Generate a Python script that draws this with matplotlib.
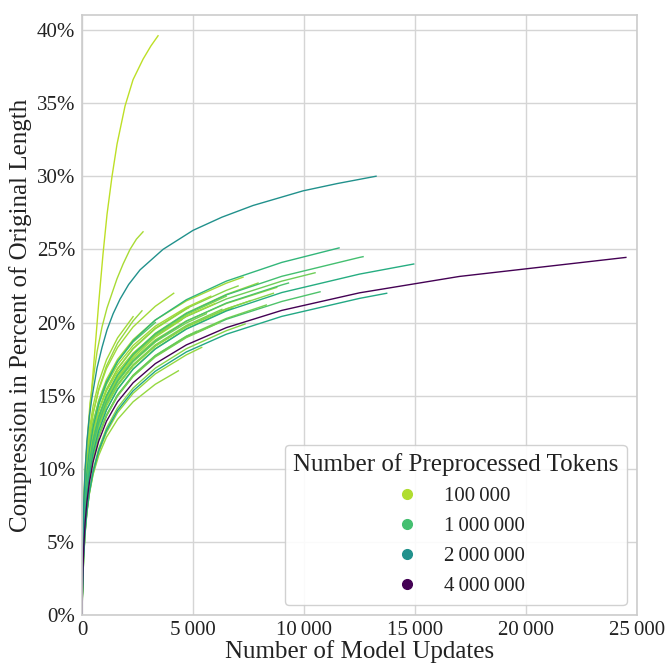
import matplotlib
matplotlib.use("Agg")
import matplotlib.pyplot as plt
from matplotlib.lines import Line2D
from matplotlib.ticker import FuncFormatter

plt.rcParams['font.family'] = ['Liberation Serif', 'DejaVu Serif']

# ---------------- data ----------------
update_grid = [0, 15, 40, 80, 140, 220, 330, 500, 750, 1100, 1600, 2300,
               3300, 4700, 6500, 9000, 12500, 17000]

# runs read on the grid: colour value on viridis, last update, compression (%)
# (compression values are at the grid points below the last update, then at the last update)
grid_run_color = [0.86, 0.84, 0.86, 0.84, 0.76, 0.84, 0.82, 0.86, 0.82, 0.84, 0.80,
                  0.82, 0.84, 0.78, 0.72, 0.86, 0.82, 0.80, 0.84, 0.82, 0.74, 0.80,
                  0.84, 0.80, 0.86, 0.82, 0.84, 0.72,
                  0.66, 0.70, 0.62, 0.60, 0.00]
grid_run_end = [2300, 2700, 4130, 4340, 5165, 5390, 7030, 7253, 7343, 7930, 8300,
                8620, 8770, 10497, 10722, 6000, 6500, 5600, 6800, 3600, 3300, 6200,
                4800, 6300, 5800, 7600, 4500, 9300,
                11578, 12660, 14943, 13725, 24500]
grid_run_compression = [
    [0, 2.81, 5.26, 7.48, 9.46, 11.15, 12.70, 14.32, 15.92, 17.45, 18.95, 20.4],
    [0, 2.37, 4.65, 6.81, 8.79, 10.51, 12.11, 13.78, 15.44, 17.03, 18.59, 20.11, 20.8],
    [0, 2.71, 5.08, 7.22, 9.13, 10.76, 12.26, 13.83, 15.37, 16.85, 18.29, 19.70, 21.11, 22.0],
    [0, 1.36, 2.84, 4.35, 5.81, 7.10, 8.32, 9.62, 10.91, 12.16, 13.38, 14.58, 15.78, 16.7],
    [0, 1.52, 3.19, 4.89, 6.53, 7.98, 9.35, 10.81, 12.26, 13.66, 15.04, 16.38, 17.73, 19.05, 19.4],
    [0, 1.18, 2.58, 4.09, 5.60, 6.98, 8.29, 9.70, 11.11, 12.48, 13.84, 15.16, 16.49, 17.79, 18.3],
    [0, 2.15, 4.22, 6.17, 7.98, 9.53, 10.98, 12.50, 14.01, 15.44, 16.86, 18.24, 19.61, 20.96, 22.20, 22.5],
    [0, 2.59, 4.85, 6.90, 8.72, 10.28, 11.71, 13.21, 14.69, 16.10, 17.48, 18.83, 20.17, 21.48, 22.69, 23.1],
    [0, 1.21, 2.64, 4.19, 5.74, 7.14, 8.49, 9.93, 11.38, 12.78, 14.17, 15.52, 16.88, 18.21, 19.44, 19.9],
    [0, 1.85, 3.77, 5.65, 7.43, 8.99, 10.45, 11.99, 13.53, 15.00, 16.44, 17.86, 19.26, 20.65, 21.92, 22.7],
    [0, 1.53, 3.19, 4.89, 6.54, 7.99, 9.36, 10.82, 12.28, 13.67, 15.05, 16.40, 17.75, 19.07, 20.28, 21.2],
    [0, 1.77, 3.60, 5.40, 7.10, 8.59, 9.98, 11.46, 12.92, 14.33, 15.71, 17.06, 18.40, 19.73, 20.94, 22.0],
    [0, 2.06, 4.05, 5.92, 7.65, 9.15, 10.54, 11.99, 13.44, 14.82, 16.17, 17.50, 18.82, 20.11, 21.30, 22.4],
    [0, 2.09, 4.10, 6.01, 7.77, 9.28, 10.69, 12.17, 13.64, 15.03, 16.41, 17.76, 19.09, 20.41, 21.61, 22.83, 23.4],
    [0, 1.52, 3.18, 4.88, 6.52, 7.96, 9.34, 10.79, 12.24, 13.63, 15.01, 16.35, 17.70, 19.01, 20.22, 21.44, 22.1],
    [0, 2.46, 4.62, 6.56, 8.30, 9.78, 11.14, 12.57, 13.97, 15.31, 16.63, 17.91, 19.18, 20.44, 21.3],
    [0, 1.84, 3.74, 5.62, 7.39, 8.94, 10.39, 11.93, 13.45, 14.91, 16.35, 17.76, 19.15, 20.53, 21.8],
    [0, 2.05, 4.02, 5.88, 7.60, 9.08, 10.46, 11.90, 13.34, 14.71, 16.06, 17.37, 18.68, 19.97, 20.6],
    [0, 1.57, 3.28, 5.03, 6.71, 8.20, 9.61, 11.11, 12.61, 14.04, 15.46, 16.84, 18.22, 19.58, 20.83, 21.0],
    [0, 1.79, 3.65, 5.48, 7.20, 8.71, 10.13, 11.63, 13.11, 14.54, 15.94, 17.31, 18.67, 19.0],
    [0, 2.57, 4.81, 6.84, 8.65, 10.20, 11.62, 13.10, 14.57, 15.96, 17.34, 18.67, 20.0],
    [0, 1.52, 3.17, 4.87, 6.50, 7.95, 9.31, 10.76, 12.21, 13.60, 14.97, 16.31, 17.65, 18.97, 20.0],
    [0, 2.14, 4.21, 6.16, 7.96, 9.52, 10.96, 12.47, 13.98, 15.41, 16.82, 18.20, 19.57, 20.92, 21.0],
    [0, 1.78, 3.61, 5.42, 7.13, 8.62, 10.02, 11.50, 12.97, 14.38, 15.77, 17.12, 18.47, 19.80, 20.9],
    [0, 2.54, 4.75, 6.75, 8.54, 10.07, 11.47, 12.93, 14.38, 15.76, 17.12, 18.43, 19.75, 21.03, 21.8],
    [0, 1.77, 3.59, 5.39, 7.09, 8.58, 9.97, 11.45, 12.91, 14.31, 15.69, 17.04, 18.38, 19.70, 20.92, 21.5],
    [0, 1.83, 3.72, 5.58, 7.33, 8.87, 10.31, 11.83, 13.34, 14.79, 16.22, 17.62, 19.00, 20.2],
    [0, 1.80, 3.66, 5.50, 7.23, 8.75, 10.17, 11.67, 13.16, 14.59, 16.00, 17.38, 18.74, 20.09, 21.33, 22.57, 22.7],
    [0, 2.21, 4.34, 6.35, 8.20, 9.80, 11.29, 12.85, 14.40, 15.88, 17.33, 18.75, 20.17, 21.56, 22.83, 24.11, 25.1],
    [0, 1.85, 3.76, 5.64, 7.42, 8.98, 10.43, 11.98, 13.51, 14.97, 16.42, 17.83, 19.23, 20.62, 21.89, 23.16, 24.45, 24.5],
    [0, 1.56, 3.27, 5.02, 6.70, 8.19, 9.60, 11.09, 12.59, 14.02, 15.43, 16.81, 18.19, 19.55, 20.79, 22.05, 23.31, 24.0],
    [0, 1.20, 2.61, 4.14, 5.67, 7.05, 8.38, 9.81, 11.24, 12.62, 13.99, 15.33, 16.67, 17.99, 19.20, 20.42, 21.65, 22.0],
    [0, 1.48, 3.09, 4.74, 6.33, 7.74, 9.07, 10.48, 11.89, 13.25, 14.58, 15.88, 17.19, 18.47, 19.65, 20.83, 22.03, 23.15, 24.45],
]

# runs read at their own update counts
steep_color = 0.90
steep_updates = [0, 15, 40, 80, 140, 200, 270, 400, 585, 760, 946, 1126, 1351, 1577, 1937, 2298, 2748, 3100, 3424]
steep_compression = [0, 2.8, 5.5, 8.0, 10.0, 11.2, 12.4, 14.8, 18.2, 21.5, 24.7, 27.4, 30.0, 32.2, 34.8, 36.6, 38.0, 38.9, 39.6]

second_color = 0.87
second_updates = [0, 15, 40, 80, 140, 220, 360, 500, 676, 900, 1126, 1350, 1577, 1850, 2162, 2450, 2748]
second_compression = [0, 2.8, 5.3, 7.6, 9.7, 11.6, 14.5, 16.1, 18.0, 19.7, 21.0, 22.0, 23.0, 24.0, 25.0, 25.7, 26.2]

teal_color = 0.50
teal_updates = [0, 15, 40, 80, 140, 220, 330, 450, 676, 900, 1126, 1400, 1712, 2100, 2613, 3649, 5000, 6300, 7704, 9956, 11500, 13245]
teal_compression = [0, 2.6, 5.2, 7.8, 10.0, 11.9, 13.6, 14.9, 16.9, 18.3, 19.5, 20.6, 21.6, 22.6, 23.6, 25.0, 26.3, 27.2, 28.0, 29.0, 29.5, 30.0]

legend_tokens = [100000, 1000000, 2000000, 4000000]
legend_color = [0.88, 0.70, 0.50, 0.00]

x_ticks = [0, 5000, 10000, 15000, 20000, 25000]
y_ticks = [0, 5, 10, 15, 20, 25, 30, 35, 40]

# ---------------- figure ----------------
cmap = plt.get_cmap('viridis')
fig = plt.figure(figsize=(6.67, 6.65), dpi=100)
ax = fig.add_axes([0.123, 0.075, 0.832, 0.902])

ax.plot(steep_updates, steep_compression, color=cmap(steep_color), lw=1.0)
ax.plot(second_updates, second_compression, color=cmap(second_color), lw=1.0)


def grid_xs(end):
    return [g for g in update_grid if g < end] + [end]


n = len(grid_run_end)
for i in range(n - 1):
    ax.plot(grid_xs(grid_run_end[i]), grid_run_compression[i],
            color=cmap(grid_run_color[i]), lw=1.0)

ax.plot(teal_updates, teal_compression, color=cmap(teal_color), lw=1.0)
ax.plot(grid_xs(grid_run_end[n - 1]), grid_run_compression[n - 1],
        color=cmap(grid_run_color[n - 1]), lw=1.0)

ax.set_xlim(0, 25000)
ax.set_ylim(0, 41)
ax.set_xticks(x_ticks)
ax.set_yticks(y_ticks)


def thin(v):
    return f"{int(v):,}".replace(",", "\u2009")


ax.xaxis.set_major_formatter(FuncFormatter(lambda v, p: thin(v)))
ax.yaxis.set_major_formatter(FuncFormatter(lambda v, p: f"{int(v)}%"))
ax.tick_params(length=0, labelsize=15, colors='#222222')
ax.tick_params(axis='x', pad=4)
ax.tick_params(axis='y', pad=5)
ax.grid(True, color='#d5d5d5', lw=1.0)
ax.set_axisbelow(True)
for s in ax.spines.values():
    s.set_color('#cccccc')
    s.set_linewidth(1.2)

ax.set_xlabel("Number of Model Updates", fontsize=18, color='#222222', labelpad=0)
ax.set_ylabel("Compression in Percent of Original Length", fontsize=18, color='#222222', labelpad=3)

handles = [Line2D([], [], ls='', marker='o', markersize=7, color=cmap(c)) for c in legend_color]
labels = [thin(t) for t in legend_tokens]
leg = ax.legend(handles, labels, title="Number of Preprocessed Tokens", loc='lower right',
                fontsize=15, title_fontsize=18, frameon=True, fancybox=True)
leg.get_frame().set_edgecolor('#cccccc')
leg.get_frame().set_facecolor('white')
leg.get_frame().set_alpha(0.9)
for t in leg.get_texts():
    t.set_color('#222222')
leg.get_title().set_color('#222222')

fig.savefig("out.png", dpi=100)
